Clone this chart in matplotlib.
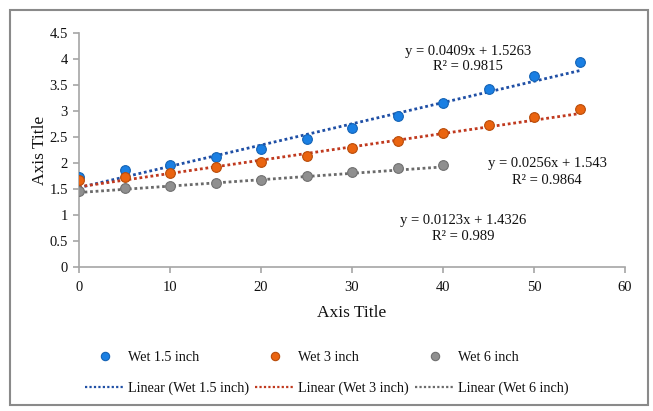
import matplotlib
matplotlib.use("Agg")
import matplotlib.pyplot as plt
from matplotlib.patches import Rectangle
from matplotlib.lines import Line2D
import numpy as np

plt.rcParams['font.family'] = ['Liberation Serif', 'DejaVu Serif']

x_all = [0, 5, 10, 15, 20, 25, 30, 35, 40, 45, 50, 55]
wet15 = [1.74, 1.86, 1.96, 2.11, 2.27, 2.46, 2.67, 2.90, 3.16, 3.42, 3.67, 3.94]
wet3 = [1.67, 1.73, 1.81, 1.92, 2.01, 2.14, 2.28, 2.43, 2.57, 2.73, 2.89, 3.04]
x6 = [0, 5, 10, 15, 20, 25, 30, 35, 40]
wet6 = [1.47, 1.51, 1.56, 1.62, 1.68, 1.75, 1.82, 1.90, 1.97]

fits = {
    'Wet 1.5 inch': (0.0409, 1.5263, 0.9815),
    'Wet 3 inch': (0.0256, 1.543, 0.9864),
    'Wet 6 inch': (0.0123, 1.4326, 0.989),
}
eq_text = [
    "y = 0.0409x + 1.5263\nR² = 0.9815",
    "y = 0.0256x + 1.543\nR² = 0.9864",
    "y = 0.0123x + 1.4326\nR² = 0.989",
]

W, H = 653, 411
fig = plt.figure(figsize=(W / 100, H / 100), dpi=100)
fig.patch.set_facecolor('white')

def fx(px):
    return px / W

def fy(py):
    return 1 - py / H

ax = fig.add_axes([fx(79), fy(267), fx(625) - fx(79), fy(33) - fy(267)])

pt_colors = ['#1a7fe3', '#ea6410', '#8f8f8f']
edge_colors = ['#1463b5', '#b84c0a', '#707070']
ln_colors = ['#1f4fa5', '#c0391e', '#6a6a6a']
names = ['Wet 1.5 inch', 'Wet 3 inch', 'Wet 6 inch']
series = [(x_all, wet15), (x_all, wet3), (x6, wet6)]
txt = '#111111'

handles = []
for (xs, ys), name, pc, ec, lc in zip(series, names, pt_colors, edge_colors, ln_colors):
    m, b, r2 = fits[name]
    xs_arr = np.array([min(xs), max(xs)], dtype=float)
    ax.plot(xs, ys, 'o', color=pc, mec=ec, mew=0.8, ms=7, zorder=3)
    ax.plot(xs_arr, m * xs_arr + b, linestyle=(0, (1, 1)), color=lc, lw=2.0, zorder=2)
    handles.append(Line2D([], [], marker='o', linestyle='none', color=pc, mec=ec, mew=0.8, ms=6, label=name))
    handles.append(Line2D([], [], linestyle=(0, (1, 1)), color=lc, lw=1.6, label=f'Linear ({name})'))

ax.set_xlim(0, 60)
ax.set_ylim(0, 4.5)
ax.set_xticks(range(0, 61, 10))
ax.set_yticks(np.arange(0, 4.51, 0.5))
ax.set_yticklabels(['0', '0.5', '1', '1.5', '2', '2.5', '3', '3.5', '4', '4.5'])
for s in ['top', 'right']:
    ax.spines[s].set_visible(False)
for s in ['left', 'bottom']:
    ax.spines[s].set_color('#a6a6a6')
    ax.spines[s].set_linewidth(1.2)
ax.tick_params(axis='both', colors='#a6a6a6', labelcolor=txt, labelsize=10.5, length=4, width=1.2, direction='out')
ax.tick_params(axis='x', pad=6)
ax.tick_params(axis='y', pad=4)
ax.set_xlabel('Axis Title', fontsize=12.5, color=txt, labelpad=8)
ax.set_ylabel('Axis Title', fontsize=12.5, color=txt, labelpad=1)

eq_pos = [(468, 59), (547, 172), (463, 228)]
for (px, py), t in zip(eq_pos, eq_text):
    fig.text(fx(px), fy(py), t, ha='center', va='center', fontsize=10.5, color=txt, linespacing=1.3)

leg = fig.legend(handles=handles, ncol=3, loc='center', bbox_to_anchor=(fx(327), fy(373)),
                 frameon=False, fontsize=10.2, handlelength=2.8, columnspacing=0.4,
                 handletextpad=0.25, labelspacing=1.2)
for t in leg.get_texts():
    t.set_color(txt)

fig.patches.append(Rectangle((fx(10), fy(405)), fx(648) - fx(10), fy(10) - fy(405),
                             transform=fig.transFigure, fill=False, edgecolor='#8a8a8a', lw=1.5))

fig.savefig('out.png', dpi=100, facecolor='white')
